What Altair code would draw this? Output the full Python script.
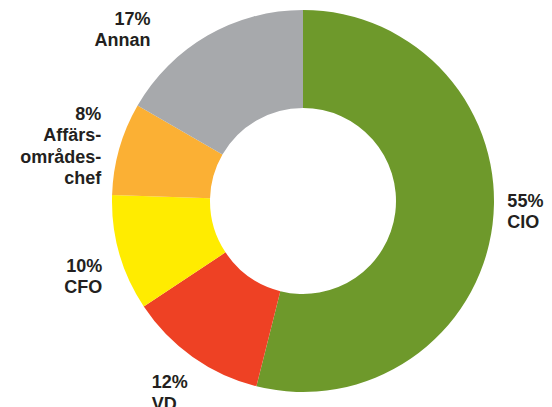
import altair as alt
import pandas as pd

categories = ["CIO", "VD", "CFO", "Affärsområdeschef", "Annan"]
values = [55, 12, 10, 8, 17]
labels = ["55%\nCIO", "12%\nVD", "10%\nCFO", "8%\nAffärs-\nområdes-\nchef", "17%\nAnnan"]
colors = ["#6E992B", "#EE4124", "#FFEC00", "#FBB034", "#A7A9AC"]

total = sum(values)
mids = []
cum = 0
for v in values:
    mids.append(cum + v / 2)
    cum += v

df = pd.DataFrame({
    "category": categories,
    "value": values,
    "label": labels,
    "mid": mids,
    "order": list(range(len(values))),
})

color_scale = alt.Scale(domain=categories, range=colors)
theta_scale = alt.Scale(domain=[0, total])

base = alt.Chart(df)

arcs = base.mark_arc(outerRadius=191, innerRadius=93).encode(
    theta=alt.Theta("value:Q", stack=True, scale=theta_scale),
    color=alt.Color("category:N", scale=color_scale, legend=None),
    order=alt.Order("order:Q"),
)

placements = {
    "CIO": dict(align="left", dx=-9, dy=-20, lh=20.5),
    "VD": dict(align="left", dx=-27, dy=12, lh=22),
    "CFO": dict(align="right", dx=6, dy=12, lh=21.3),
    "Affärsområdeschef": dict(align="right", dx=5, dy=-22, lh=21.3),
    "Annan": dict(align="right", dx=-45, dy=10, lh=21.5),
}

texts = []
for cat, p in placements.items():
    t = base.transform_filter(alt.datum.category == cat).mark_text(
        radius=215,
        align=p["align"],
        baseline="alphabetic",
        dx=p["dx"],
        dy=p["dy"],
        font="Liberation Sans",
        fontWeight="bold",
        fontSize=18,
        lineHeight=p["lh"],
        lineBreak="\n",
        color="#231F20",
    ).encode(
        theta=alt.Theta("mid:Q", stack=None, scale=theta_scale),
        text="label:N",
    )
    texts.append(t)

chart = alt.layer(arcs, *texts).properties(
    width=482,
    height=386,
    autosize=alt.AutoSizeParams(type="none"),
    padding={"left": 54, "top": 0, "right": 0, "bottom": 13},
).configure_view(stroke=None)

chart.save("out.html", embed_options={"renderer": "svg", "actions": False})
